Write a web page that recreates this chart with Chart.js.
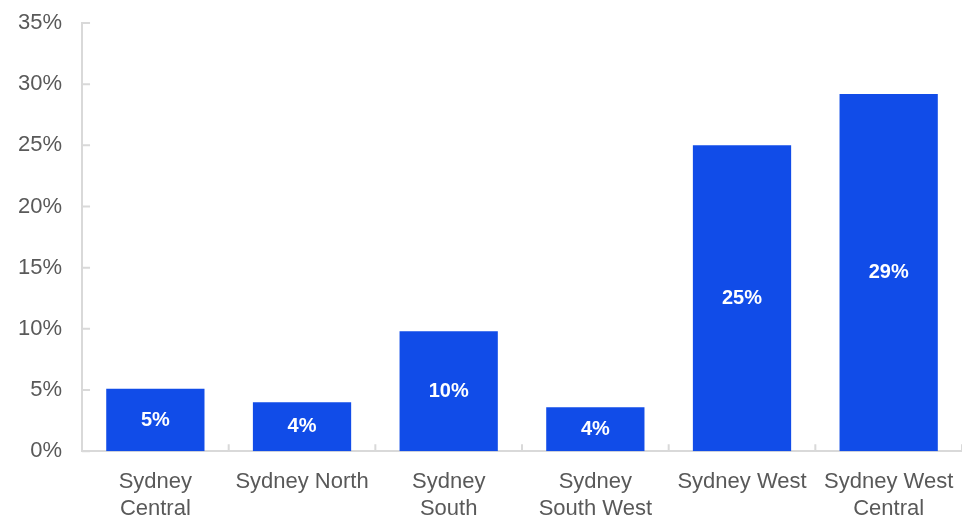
<!DOCTYPE html>
<html>
<head>
<meta charset="utf-8">
<script src="https://cdn.jsdelivr.net/npm/chart.js@4/dist/chart.umd.min.js"></script>
<style>
  html, body { margin: 0; padding: 0; background: #fff; }
  #wrap { width: 962px; height: 519px; }
</style>
</head>
<body>
<div id="wrap"><canvas id="chart"></canvas></div>
<script>
const categories = [
  ['Sydney', 'Central'],
  'Sydney North',
  ['Sydney', 'South'],
  ['Sydney', 'South West'],
  'Sydney West',
  ['Sydney West', 'Central']
];
const shares = [5.1, 4.0, 9.8, 3.6, 25.0, 29.2];
const shareLabels = ['5%', '4%', '10%', '4%', '25%', '29%'];

// white labels in the middle of each bar
const barLabels = {
  id: 'barLabels',
  afterDatasetsDraw(chart) {
    const ctx = chart.ctx;
    const meta = chart.getDatasetMeta(0);
    ctx.save();
    ctx.fillStyle = '#ffffff';
    ctx.font = 'bold 20px "Liberation Sans", Arial, sans-serif';
    ctx.textAlign = 'center';
    ctx.textBaseline = 'middle';
    meta.data.forEach((bar, i) => {
      const mid = (bar.y + bar.base) / 2;
      ctx.fillText(shareLabels[i], bar.x, mid);
    });
    ctx.restore();
  }
};

// short tick marks pointing into the plot (between categories on x, at each step on y)
const innerTicks = {
  id: 'innerTicks',
  afterDraw(chart) {
    const { ctx, chartArea, scales } = chart;
    const x = scales.x, y = scales.y;
    ctx.save();
    ctx.strokeStyle = '#d9d9d9';
    ctx.lineWidth = 2;
    ctx.beginPath();
    y.ticks.forEach((t, i) => {
      const py = y.getPixelForTick(i);
      ctx.moveTo(chartArea.left, py);
      ctx.lineTo(chartArea.left + 8, py);
    });
    const half = (x.getPixelForValue(1) - x.getPixelForValue(0)) / 2;
    for (let i = 0; i < categories.length; i++) {
      const px = x.getPixelForValue(i) + half;
      ctx.moveTo(px, chartArea.bottom);
      ctx.lineTo(px, chartArea.bottom - 7);
    }
    ctx.stroke();
    ctx.restore();
  }
};

const axisFont = { family: '"Liberation Sans", Arial, sans-serif', size: 22, lineHeight: 1.2 };

new Chart(document.getElementById('chart'), {
  type: 'bar',
  data: {
    labels: categories,
    datasets: [{
      data: shares,
      backgroundColor: '#114ce8',
      borderWidth: 0,
      barPercentage: 0.67,
      categoryPercentage: 1
    }]
  },
  options: {
    responsive: true,
    maintainAspectRatio: false,
    animation: false,
    layout: { padding: { top: 23, left: 18, right: 0, bottom: -3 } },
    plugins: {
      legend: { display: false },
      tooltip: { enabled: false }
    },
    scales: {
      x: {
        // tickLength only reserves the gap under the axis; marks come from innerTicks
        grid: { display: false, tickLength: 18 },
        border: { color: '#d9d9d9', width: 2 },
        ticks: {
          color: '#595959',
          font: axisFont,
          maxRotation: 0,
          autoSkip: false,
          padding: 0
        }
      },
      y: {
        min: 0,
        max: 35,
        grid: { display: false, tickLength: 20 },
        border: { color: '#d9d9d9', width: 2 },
        ticks: {
          stepSize: 5,
          color: '#595959',
          font: axisFont,
          padding: 0,
          callback: v => v + '%'
        }
      }
    }
  },
  plugins: [barLabels, innerTicks]
});
</script>
</body>
</html>
